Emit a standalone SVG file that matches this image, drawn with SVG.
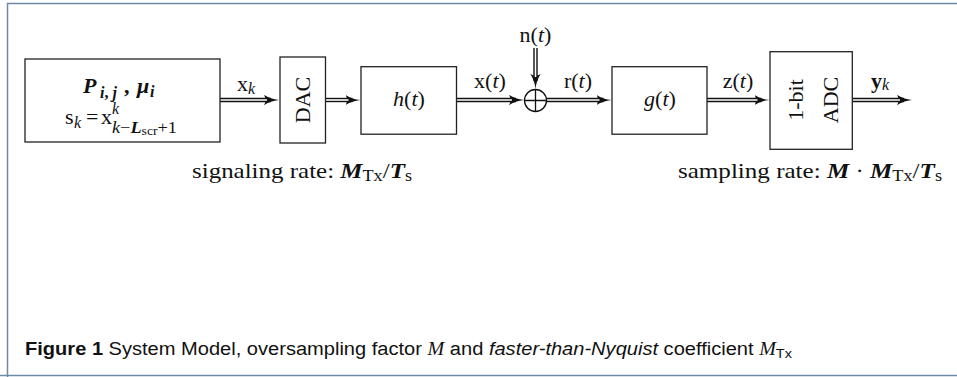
<svg xmlns="http://www.w3.org/2000/svg" width="957" height="377" viewBox="0 0 957 377">
<style>
.bx{fill:#fff;stroke:#222;stroke-width:1.3}
.t{font-family:"Liberation Serif","DejaVu Serif",serif;font-size:22px;fill:#111}
.i{font-style:italic}
.b{font-weight:bold}
.s{font-size:16px}
.ol{fill:none;stroke:#111;stroke-width:4.4}
.il{fill:none;stroke:#fff;stroke-width:1.6}
.cap{font-family:"Liberation Sans","DejaVu Sans",sans-serif;font-size:18px;fill:#111}
</style>
<defs>
<marker id="ah" viewBox="0 0 15 11" markerWidth="15" markerHeight="11" refX="7" refY="5.5" orient="auto" markerUnits="userSpaceOnUse">
<path d="M0,0.3 Q6,4.5 15,5.5 Q6,6.5 0,10.7 Q3,5.5 0,0.3 Z" fill="#111"/>
</marker>
</defs>
<rect x="0" y="0" width="957" height="377" fill="#fff"/>
<path d="M7.5,377 V3.5 H957" fill="none" stroke="#6f8aa8" stroke-width="1.5"/>
<path d="M0,375.5 H957" fill="none" stroke="#6f8aa8" stroke-width="1.5"/>

<g id="connectors">
<path class="ol" d="M220,100 H271" marker-end="url(#ah)"/><path class="il" d="M220,100 H267"/>
<path class="ol" d="M325.5,100 H352.5" marker-end="url(#ah)"/><path class="il" d="M325.5,100 H348.5"/>
<path class="ol" d="M456.5,100 H516" marker-end="url(#ah)"/><path class="il" d="M456.5,100 H512"/>
<path class="ol" d="M546.5,100 H603.5" marker-end="url(#ah)"/><path class="il" d="M546.5,100 H599.5"/>
<path class="ol" d="M707,100 H761.5" marker-end="url(#ah)"/><path class="il" d="M707,100 H757.5"/>
<path class="ol" d="M852.3,100 H904" marker-end="url(#ah)"/><path class="il" d="M852.3,100 H900"/>
<path class="ol" d="M535.5,48 V81" marker-end="url(#ah)"/><path class="il" d="M535.5,48 V77"/>
<text class="t" x="237" y="91">x<tspan class="i s" dy="3">k</tspan></text>
<text class="t" x="490" y="88" text-anchor="middle">x(<tspan class="i">t</tspan>)</text>
<text class="t" x="578" y="88" text-anchor="middle">r(<tspan class="i">t</tspan>)</text>
<text class="t" x="738" y="88" text-anchor="middle">z(<tspan class="i">t</tspan>)</text>
<text class="t" x="871" y="88"><tspan class="b">y</tspan><tspan class="i s" dy="2">k</tspan></text>
<text class="t" x="535.5" y="42" text-anchor="middle">n(<tspan class="i">t</tspan>)</text>
</g>

<g id="source">
<rect class="bx" x="25" y="59" width="195" height="83"/>
<text class="t i b" x="83" y="93">P</text>
<text class="t i b s" x="100" y="98">i<tspan font-style="normal">, </tspan>j</text>
<text class="t b" x="124" y="93">,</text>
<text class="t i b" x="137" y="93">μ</text>
<text class="t i b s" x="150" y="97">i</text>
<text class="t" x="65" y="124">s</text>
<text class="t i s" x="74" y="128">k</text>
<text class="t" x="86" y="124">=</text>
<text class="t" x="101" y="124">x</text>
<text class="t i s" x="112" y="114">k</text>
<text class="t s" x="112" y="133" textLength="65" lengthAdjust="spacingAndGlyphs"><tspan class="i">k</tspan>−<tspan class="i b">L</tspan><tspan font-size="12" dy="2">scr</tspan><tspan dy="-2">+1</tspan></text>
</g>

<g id="dac">
<rect class="bx" x="280" y="57" width="45.5" height="86"/>
<text class="t" transform="translate(310,100) rotate(-90)" text-anchor="middle">DAC</text>
</g>

<g id="h">
<rect class="bx" x="361" y="66.7" width="95.5" height="67.5"/>
<text class="t" x="409" y="106" text-anchor="middle"><tspan class="i">h</tspan>(<tspan class="i">t</tspan>)</text>
</g>

<g id="sum">
<circle cx="535.5" cy="100.5" r="11" fill="#fff" stroke="#111" stroke-width="1.3"/>
<path d="M524.5,100.5 H546.5 M535.5,89.5 V111.5" stroke="#111" stroke-width="1.3"/>
</g>

<g id="g">
<rect class="bx" x="612" y="66.7" width="95" height="67.5"/>
<text class="t" x="660" y="106" text-anchor="middle"><tspan class="i">g</tspan>(<tspan class="i">t</tspan>)</text>
</g>

<g id="adc">
<rect class="bx" x="770" y="51.7" width="82.3" height="97.6"/>
<text class="t" transform="translate(803,100) rotate(-90)" text-anchor="middle">1-bit</text>
<text class="t" transform="translate(838,100) rotate(-90)" text-anchor="middle">ADC</text>
</g>

<g id="rates">
<text class="t" x="192" y="178" textLength="220" lengthAdjust="spacingAndGlyphs">signaling rate: <tspan class="i b">M</tspan><tspan class="s" dy="3">Tx</tspan><tspan dy="-3">/</tspan><tspan class="i b">T</tspan><tspan class="s" dy="3">s</tspan></text>
<text class="t" x="678" y="178" textLength="264" lengthAdjust="spacingAndGlyphs">sampling rate: <tspan class="i b">M</tspan> · <tspan class="i b">M</tspan><tspan class="s" dy="3">Tx</tspan><tspan dy="-3">/</tspan><tspan class="i b">T</tspan><tspan class="s" dy="3">s</tspan></text>
</g>

<g id="caption">
<text class="cap" x="25" y="355" textLength="767" lengthAdjust="spacingAndGlyphs"><tspan font-weight="bold">Figure 1</tspan> System Model, oversampling factor <tspan font-family="Liberation Serif,serif" font-style="italic">M</tspan> and <tspan font-style="italic">faster-than-Nyquist</tspan> coefficient <tspan font-family="Liberation Serif,serif" font-style="italic">M</tspan><tspan font-size="13" dy="3">Tx</tspan></text>
</g>
</svg>
